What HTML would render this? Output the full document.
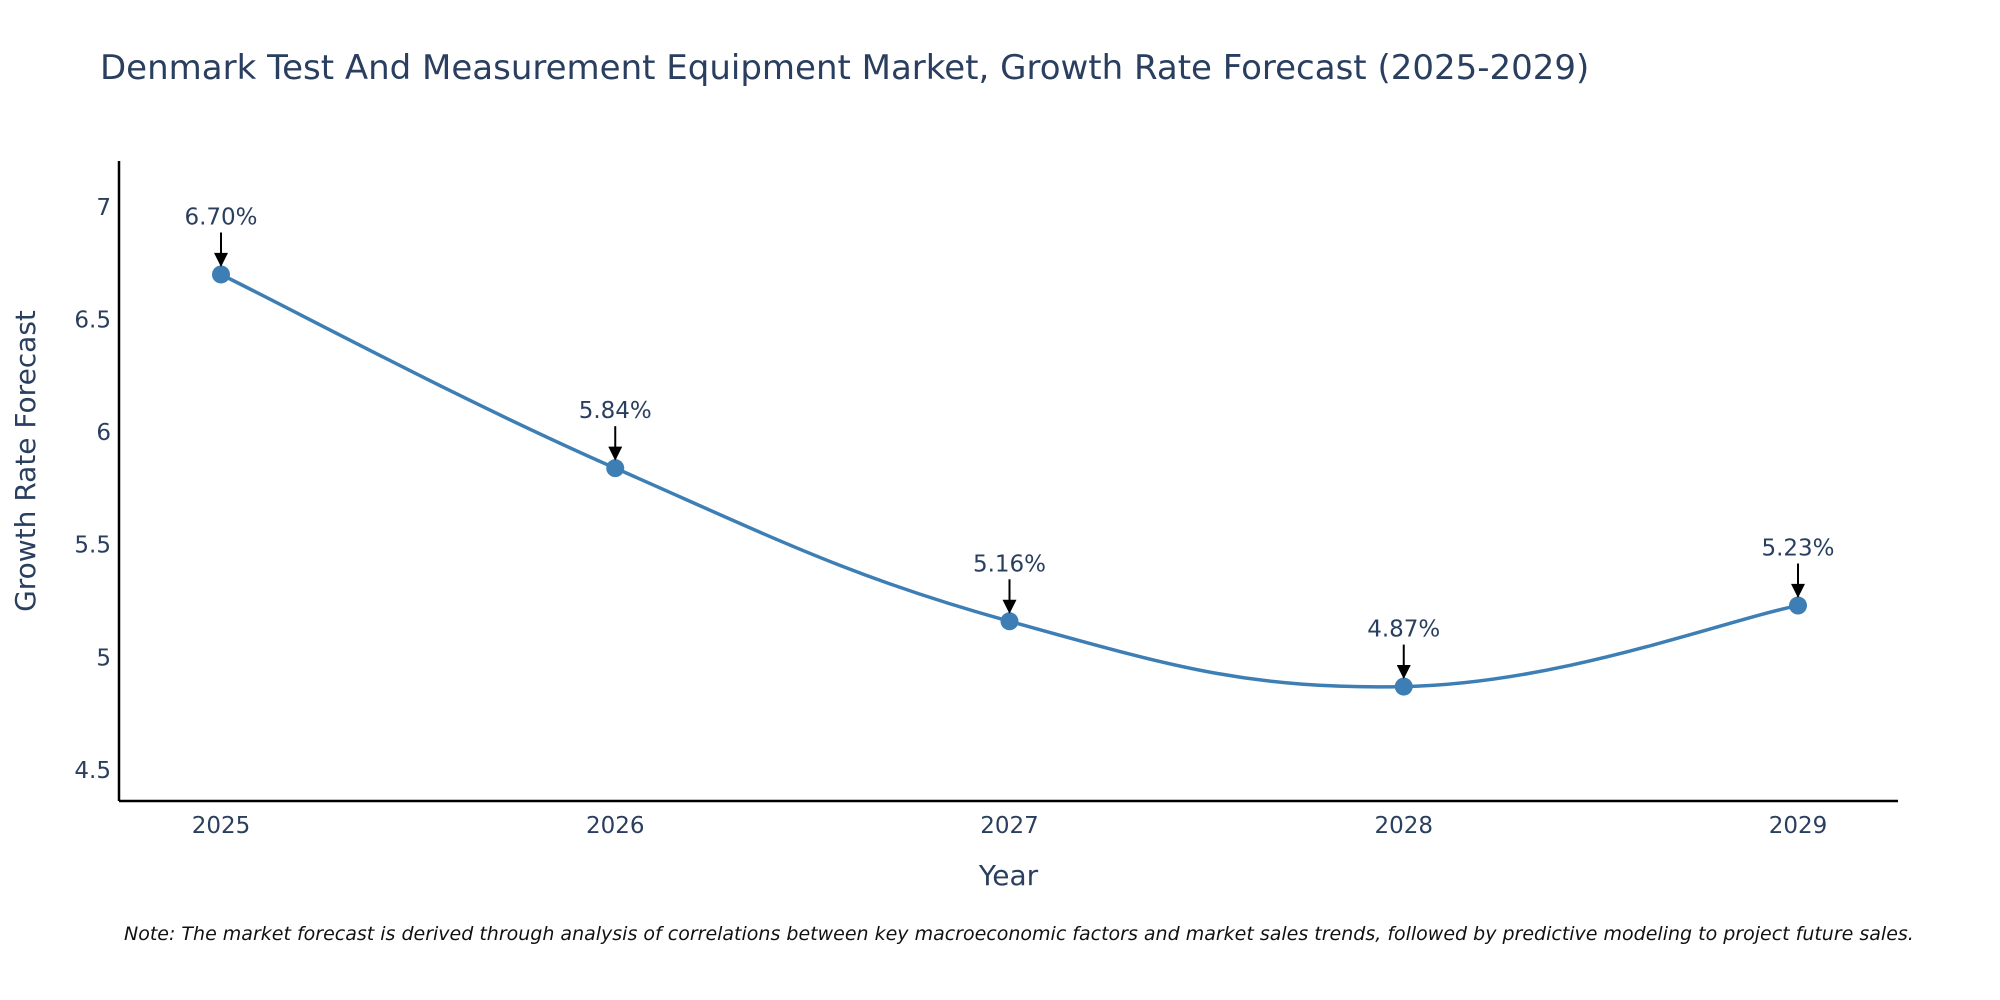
<!DOCTYPE html>
<html><head><meta charset="utf-8"><style>
html,body{margin:0;padding:0;background:#fff;}
svg{display:block;font-family:"DejaVu Sans","Liberation Sans",sans-serif;}
</style></head><body>
<svg id="chart" width="2000" height="1000" viewBox="0 0 2000 1000">
<text x="100" y="79" font-size="34" fill="#2a3f5f">Denmark Test And Measurement Equipment Market, Growth Rate Forecast (2025-2029)</text>
<g id="axes"></g>
<g id="series"></g>
<g id="annots"></g>
<text x="124" y="940" font-size="19" font-style="italic" fill="#111">Note: The market forecast is derived through analysis of correlations between key macroeconomic factors and market sales trends, followed by predictive modeling to project future sales.</text>
</svg>
<script>
const categories = ["2025","2026","2027","2028","2029"];
const values = [6.70, 5.84, 5.16, 4.87, 5.23];
const valueLabels = ["6.70%","5.84%","5.16%","4.87%","5.23%"];
const yTicks = [4.5, 5, 5.5, 6, 6.5, 7];
const yTickLabels = ["4.5","5","5.5","6","6.5","7"];

const NS="http://www.w3.org/2000/svg";
const L=119,R=1898,T=161,B=801;
const x0=221,x1=1798;
const yMin=4.362,yMax=7.204;
const xs=i=>x0+(x1-x0)*i/(categories.length-1);
const ys=v=>B-(v-yMin)/(yMax-yMin)*(B-T);
function mk(tag,attrs,parent){const e=document.createElementNS(NS,tag);for(const k in attrs)e.setAttribute(k,attrs[k]);parent.appendChild(e);return e;}
const axes=document.getElementById('axes'),series=document.getElementById('series'),ann=document.getElementById('annots');

const ya=mk('line',{x1:L,y1:T,x2:L,y2:B,stroke:'#000','stroke-width':2.5},axes);


const xa=mk('line',{x1:L,y1:B,x2:R,y2:B,stroke:'#000','stroke-width':2.5},axes);



yTicks.forEach((v,i)=>{
  const t=mk('text',{x:L-8,y:ys(v)+8,'text-anchor':'end','font-size':23,fill:'#2a3f5f'},axes);
  t.textContent=yTickLabels[i];
  
  
});
categories.forEach((c,i)=>{
  const t=mk('text',{x:xs(i),y:B+32,'text-anchor':'middle','font-size':23,fill:'#2a3f5f'},axes);
  t.textContent=c;
  
  
});
const xt=mk('text',{x:(L+R)/2,y:885,'text-anchor':'middle','font-size':28,fill:'#2a3f5f'},axes);
xt.textContent='Year';


const yt=mk('text',{x:0,y:0,'text-anchor':'middle','font-size':28,fill:'#2a3f5f',transform:`translate(35,${(T+B)/2-20}) rotate(-90)`},axes);
yt.textContent='Growth Rate Forecast';



const pts=values.map((v,i)=>[xs(i),ys(v)]);
let d=`M${pts[0][0]},${pts[0][1]}`;
const s=0.2;
for(let i=0;i<pts.length-1;i++){
  const p0=pts[Math.max(i-1,0)],p1=pts[i],p2=pts[i+1],p3=pts[Math.min(i+2,pts.length-1)];
  const c1=[p1[0]+(p2[0]-p0[0])*s,p1[1]+(p2[1]-p0[1])*s];
  const c2=[p2[0]-(p3[0]-p1[0])*s,p2[1]-(p3[1]-p1[1])*s];
  d+=` C${c1[0]},${c1[1]} ${c2[0]},${c2[1]} ${p2[0]},${p2[1]}`;
}
const line=mk('path',{d:d,fill:'none',stroke:'#3d7fb5','stroke-width':3.5},series);



mk('defs',{},ann).innerHTML='<marker id="ah" viewBox="0 0 10 10" refX="9" refY="5" markerWidth="8" markerHeight="7" orient="auto"><path d="M0,0L10,5L0,10z" fill="#000"/></marker>';
pts.forEach((p,i)=>{
  const c=mk('circle',{cx:p[0],cy:p[1],r:9,fill:'#3d7fb5'},series);
  
  
  const a=mk('line',{x1:p[0],y1:p[1]-42,x2:p[0],y2:p[1]-9,stroke:'#000','stroke-width':2,'marker-end':'url(#ah)'},ann);
  
  
  const t=mk('text',{x:p[0],y:p[1]-50,'text-anchor':'middle','font-size':23,fill:'#2a3f5f'},ann);
  t.textContent=valueLabels[i];
  
  
});
</script>
</body></html>
